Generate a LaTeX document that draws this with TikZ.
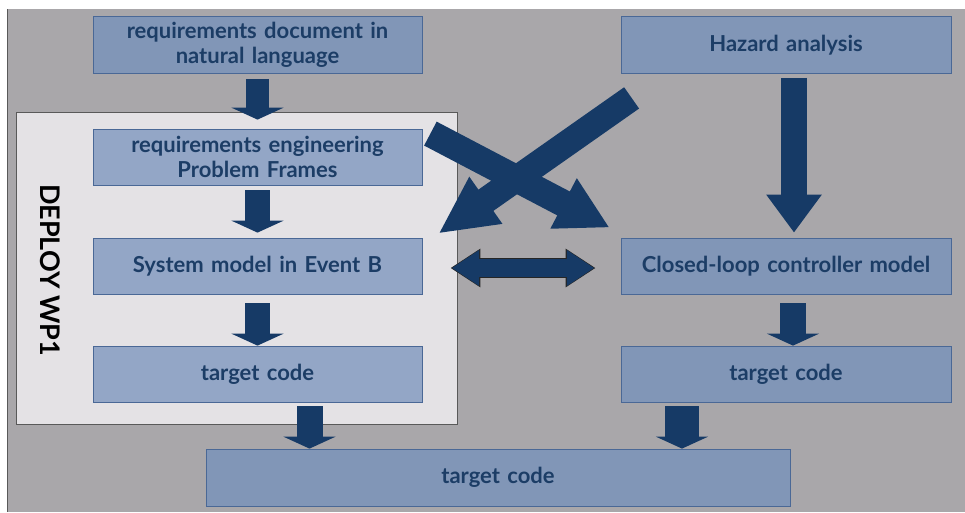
\documentclass[tikz,border=0pt]{standalone}
\usepackage{fontspec}
\setmainfont{Lato}
\usepackage{xcolor}
\definecolor{wpnavy}{RGB}{22, 58, 102}
\definecolor{wptext}{RGB}{28, 61, 102}
\definecolor{wpback}{RGB}{169, 167, 170}
\definecolor{wppanel}{RGB}{228, 226, 229}
\definecolor{wpedge}{RGB}{74, 104, 150}
\definecolor{wpouter}{RGB}{129, 150, 183}
\definecolor{wpinner}{RGB}{147, 166, 198}
\usepackage{tikz}
\usetikzlibrary{arrows.meta}

\tikzset{
  wpbox/.style={
    draw=wpedge,
    line width=0.8pt,
    fill=wpouter,
    text=wptext,
    font=\fontsize{22}{24.5}\selectfont\bfseries,
    align=center,
    text width=320pt,
    minimum width=329pt,
    minimum height=57pt,
    inner sep=0pt
  },
  wpinbox/.style={wpbox, fill=wpinner},
  flatarrow/.style={
    draw=wpnavy,
    line width=25pt,
    -{Triangle[width=52pt,length=12pt]}
  },
  longarrow/.style={
    draw=wpnavy,
    line width=26pt,
    -{Triangle[width=53pt,length=38pt]}
  },
  crossarrow/.style={
    draw=wpnavy,
    line width=27pt,
    -{Triangle[width=53pt,length=52pt]}
  }
}

\begin{document}
\begin{tikzpicture}[x=1pt, y=-1pt]
    \useasboundingbox (0,0) rectangle (965,512);
    \fill[wpback] (7,9) rectangle (965,512);
    \draw[black!65, line width=1pt] (7,9) -- (7,512);

    % work package panel
    \node[
      draw=black!65,
      line width=0.8pt,
      fill=wppanel,
      minimum width=441pt,
      minimum height=312pt,
      inner sep=0pt
    ] (panel) at (236.5,268) {};
    \node[
      rotate=-90,
      font=\fontsize{27}{30}\selectfont\bfseries,
      text=black
    ] (wplabel) at ([xshift=35pt,yshift=-2pt]panel.west) {DEPLOY WP1};

    % left column
    \node[wpbox] (reqdoc) at (257.5,45) {requirements document in\\natural language};
    \node[wpinbox, minimum height=56pt] (reqeng) at (257.5,157) {requirements engineering\\Problem Frames};
    \node[wpinbox, minimum height=56pt] (sysmodel) at (257.5,266) {System model in Event B};
    \node[wpinbox, minimum height=56pt] (codeleft) at (257.5,374) {target code};

    % right column
    \node[wpbox, minimum width=330pt] (hazard) at (786,45) {Hazard analysis};
    \node[wpbox, minimum width=330pt, minimum height=56pt] (ctrl) at (786,266) {Closed-loop controller model};
    \node[wpbox, minimum width=330pt, minimum height=56pt] (coderight) at (786,374) {target code};

    % merged code
    \node[wpbox, minimum width=584pt, text width=560pt] (codeall) at (498,477.5) {target code};

    % straight arrows
    \draw[flatarrow, line width=23pt, shorten <=5pt, shorten >=9pt] (reqdoc) -- (reqeng);
    \draw[flatarrow, shorten <=5pt, shorten >=5pt] (reqeng) -- (sysmodel);
    \draw[flatarrow, shorten <=9pt] (sysmodel) -- (codeleft);
    \draw[flatarrow, line width=26pt] ([xshift=7pt,yshift=-9pt]ctrl.south) -- ([xshift=7pt]coderight.north);
    \draw[longarrow] ([xshift=8pt,yshift=-4pt]hazard.south) -- ([xshift=8pt,yshift=5pt]ctrl.north);
    \draw[flatarrow, line width=26pt] ([xshift=52pt,yshift=-4pt]codeleft.south) -- ([xshift=52pt]codeleft.south |- codeall.north);
    \draw[flatarrow, line width=34pt] ([xshift=-104pt,yshift=-4pt]coderight.south) -- ([xshift=-104pt]coderight.south |- codeall.north);

    % crossing arrows
    \draw[crossarrow] ([xshift=8pt,yshift=-5pt]reqeng.north east) -- ([xshift=-11pt,yshift=10pt]ctrl.north west);
    \draw[crossarrow, line width=26pt, -{Triangle[width=53pt,length=58pt]}] ([xshift=11pt,yshift=-24pt]hazard.south west) -- ([xshift=16pt,yshift=4pt]sysmodel.north east);

    % model exchange
    \draw[black!85, line width=19.6pt, {Triangle[width=36.6pt,length=30pt]}-{Triangle[width=36.6pt,length=30pt]}]
      ([xshift=28pt,yshift=-2pt]sysmodel.east) -- ([xshift=-25pt,yshift=-2pt]ctrl.west);
    \draw[wpnavy, line width=18pt, {Triangle[width=34pt,length=27.5pt]}-{Triangle[width=34pt,length=27.5pt]},
      shorten <=1.3pt, shorten >=1.3pt]
      ([xshift=28pt,yshift=-2pt]sysmodel.east) -- ([xshift=-25pt,yshift=-2pt]ctrl.west);
  \end{tikzpicture}
\end{document}
